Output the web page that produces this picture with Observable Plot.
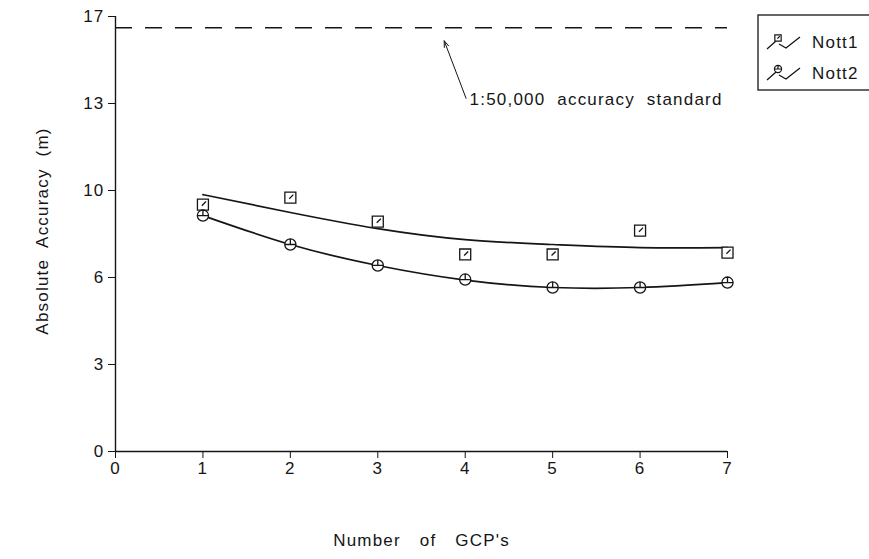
<!DOCTYPE html>
<html>
<head>
<meta charset="utf-8">
<script src="https://cdn.jsdelivr.net/npm/d3@7"></script>
<script src="https://cdn.jsdelivr.net/npm/@observablehq/plot@0.6"></script>
<style>
  html, body { margin: 0; padding: 0; background: #fff; }
  #wrap { position: relative; width: 869px; height: 559px; overflow: hidden; }
  #legend { position: absolute; left: 0; top: 0; pointer-events: none; }
  svg text { letter-spacing: 1.2px; word-spacing: 6px; }
  .xlab text { word-spacing: 13px; }
</style>
</head>
<body>
<div id="wrap"></div>
<script>
// ---- data ----
const gcp = [1, 2, 3, 4, 5, 6, 7];
const nott1 = [9.65, 9.92, 8.98, 7.70, 7.70, 8.63, 7.77];
const nott2 = [9.22, 8.09, 7.27, 6.72, 6.41, 6.41, 6.60];
const nott1Fit = [10.04, 9.34, 8.71, 8.28, 8.09, 7.97, 7.97];
const nott2Fit = [9.22, 8.09, 7.27, 6.70, 6.41, 6.41, 6.60];
const standardValue = 16.56;
const xTicks = [0, 1, 2, 3, 4, 5, 6, 7];
const yTickValues = [0, 3.4, 6.8, 10.2, 13.6, 17];
const yTickLabels = ["0", "3", "6", "10", "13", "17"];
const seriesNames = ["Nott1", "Nott2"];
const annotationText = ["1:50,000 accuracy standard"];
const annotationTextAt = [4.05, 13.75];
const annotationArrow = [4.01, 13.8, 3.76, 16.05];
const xLabel = "Number of GCP's";
const yLabel = "Absolute Accuracy (m)";

const ink = "#151515";
const font = "'Liberation Sans', Arial, sans-serif";

// custom symbols
const squareTick = {
  draw(ctx, size) {
    const h = Math.sqrt(size) / 2;
    ctx.moveTo(-h, -h); ctx.lineTo(h, -h); ctx.lineTo(h, h); ctx.lineTo(-h, h); ctx.closePath();
    ctx.moveTo(-h * 0.2, h * 0.2); ctx.lineTo(h * 0.55, -h * 0.55);
  }
};
const circleTick = {
  draw(ctx, size) {
    const r = Math.sqrt(size / Math.PI);
    ctx.moveTo(r, 0); ctx.arc(0, 0, r, 0, 2 * Math.PI);
    ctx.moveTo(-r, 0); ctx.lineTo(r, 0);
    ctx.moveTo(0, -r); ctx.lineTo(0, 0);
  }
};

const pts1 = gcp.map((x, i) => ({x, y: nott1[i]}));
const pts2 = gcp.map((x, i) => ({x, y: nott2[i]}));
const fit1 = gcp.map((x, i) => ({x, y: nott1Fit[i]}));
const fit2 = gcp.map((x, i) => ({x, y: nott2Fit[i]}));
const ann = [{x: annotationTextAt[0], y: annotationTextAt[1], text: annotationText[0],
  x1: annotationArrow[0], y1: annotationArrow[1], x2: annotationArrow[2], y2: annotationArrow[3]}];

const chart = Plot.plot({
  width: 869,
  height: 559,
  marginLeft: 115,
  marginRight: 142,
  marginTop: 16,
  marginBottom: 108,
  x: {domain: [0, 7]},
  y: {domain: [0, 17]},
  style: {fontFamily: font, fontSize: "17px", color: ink, background: "#fff"},
  marks: [
    Plot.axisX({ticks: xTicks, tickFormat: d => String(d), tickSize: 7, tickPadding: 3, label: null, stroke: ink, fill: ink}),
    Plot.axisY({ticks: yTickValues, tickFormat: d => yTickLabels[yTickValues.indexOf(d)], tickSize: 7, tickPadding: 4, label: null, stroke: ink, fill: ink}),
    Plot.ruleX([0], {y1: 0, y2: 17, stroke: ink, strokeWidth: 1.4}),
    Plot.ruleY([0], {x1: 0, x2: 7, stroke: ink, strokeWidth: 1.4}),
    Plot.ruleY([standardValue], {x1: 0, x2: 7, stroke: ink, strokeWidth: 1.3, strokeDasharray: "17,13"}),
    Plot.line(fit1, {x: "x", y: "y", curve: "natural", stroke: ink, strokeWidth: 1.7}),
    Plot.line(fit2, {x: "x", y: "y", curve: "natural", stroke: ink, strokeWidth: 1.7}),
    Plot.dot(pts1, {x: "x", y: "y", symbol: squareTick, r: 6.2, stroke: ink, strokeWidth: 1.3, fill: "#fff"}),
    Plot.dot(pts2, {x: "x", y: "y", symbol: circleTick, r: 5.6, stroke: ink, strokeWidth: 1.3, fill: "#fff"}),
    Plot.arrow(ann, {x1: "x1", y1: "y1", x2: "x2", y2: "y2", stroke: ink, strokeWidth: 1, headLength: 10, headAngle: 40}),
    Plot.text(ann, {x: "x", y: "y", text: "text", textAnchor: "start", fill: ink, fontSize: 17}),
    Plot.text([xLabel], {frameAnchor: "bottom", dy: 94, fill: ink, fontSize: 17, className: "xlab"}),
    Plot.text([yLabel], {frameAnchor: "left", textAnchor: "middle", dx: -73, dy: -3, rotate: -90, fill: ink, fontSize: 17})
  ]
});
document.getElementById("wrap").appendChild(chart);

// legend overlay
const leg = d3.select("#wrap").append("svg").attr("id", "legend")
  .attr("width", 869).attr("height", 559);
leg.append("rect").attr("x", 758).attr("y", 15).attr("width", 130).attr("height", 75)
  .attr("fill", "none").attr("stroke", ink).attr("stroke-width", 1.3);
const rows = [{name: seriesNames[0], y: 42, sym: squareTick}, {name: seriesNames[1], y: 73, sym: circleTick}];
rows.forEach(r => {
  leg.append("path").attr("d", `M767,${r.y + 7} L776,${r.y - 1} M779,${r.y + 2} L786,${r.y + 6} L800,${r.y - 5}`)
    .attr("fill", "none").attr("stroke", ink).attr("stroke-width", 1.3);
  leg.append("path").attr("d", d3.symbol(r.sym, 40)()).attr("transform", `translate(778,${r.y - 4})`)
    .attr("fill", "#fff").attr("stroke", ink).attr("stroke-width", 1.2);
  leg.append("text").attr("x", 812).attr("y", r.y + 6).text(r.name)
    .attr("font-family", font).attr("font-size", 17).attr("fill", ink);
});
</script>
</body>
</html>
